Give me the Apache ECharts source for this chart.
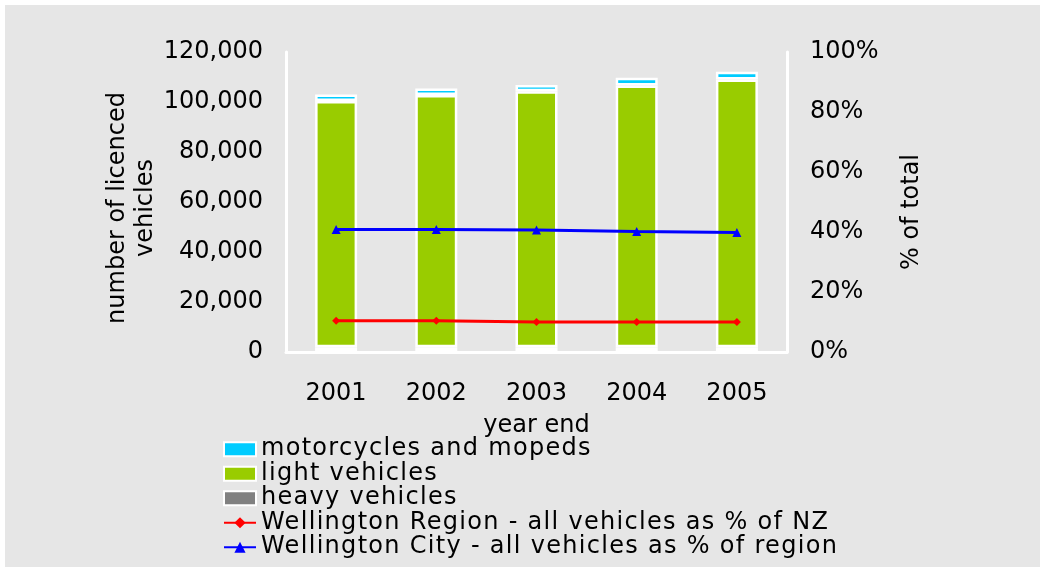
<!DOCTYPE html>
<html>
<head>
<meta charset="utf-8">
<script src="https://cdn.jsdelivr.net/npm/echarts@6/dist/echarts.min.js"></script>
<style>
    html, body {
        margin: 0;
        padding: 0;
        background: #fff;
    }

    #chart {
        position: absolute;
        left: 5px;
        top: 5px;
        width: 1035px;
        height: 562px;
    }
</style>
</head>
<body>
<div id="chart"></div>
<script>
    // data
    var years = ['2001', '2002', '2003', '2004', '2005'];
    var heavyVehicles = [1900, 1900, 1900, 1900, 1900];
    var lightVehicles = [98500, 100900, 102400, 104700, 107100];
    var motorcycles = [2600, 2600, 2500, 3100, 3100];
    var regionPctOfNZ = [10.4, 10.4, 10.0, 10.0, 10.0];
    var cityPctOfRegion = [40.8, 40.8, 40.7, 40.2, 39.8];

    var font = 'DejaVu Sans';
    // legend text in the original is spaced wider than the axis text
    var legendFont = 'Verdana, DejaVu Sans';

    var origFillText = CanvasRenderingContext2D.prototype.fillText;
    CanvasRenderingContext2D.prototype.fillText = function () {
        this.letterSpacing = this.font.indexOf('Verdana') >= 0 ? '1.3px' : '0px';
        return origFillText.apply(this, arguments);
    };

    var myChart = echarts.init(document.getElementById('chart'));

    myChart.setOption({
        backgroundColor: '#e6e6e6',
        animation: false,
        textStyle: {
            fontFamily: font,
            color: '#000'
        },
        grid: {
            left: 281,
            right: 253,
            top: 47,
            bottom: 215
        },
        legend: {
            orient: 'vertical',
            left: 218,
            top: 432,
            padding: 0,
            itemWidth: 32,
            itemHeight: 14,
            itemGap: 0,
            textStyle: {
                fontFamily: legendFont,
                fontSize: 24,
                lineHeight: 24.5,
                color: '#000'
            },
            data: [
                { name: 'motorcycles and mopeds', icon: 'rect' },
                { name: 'light vehicles', icon: 'rect' },
                { name: 'heavy vehicles', icon: 'rect' },
                'Wellington Region - all vehicles as % of NZ',
                'Wellington City - all vehicles as % of region'
            ]
        },
        xAxis: {
            type: 'category',
            data: years,
            name: 'year end',
            nameLocation: 'middle',
            nameGap: 62,
            nameTextStyle: {
                fontSize: 24,
                color: '#000'
            },
            axisLine: {
                lineStyle: { color: '#fff', width: 3 }
            },
            axisTick: { show: false },
            axisLabel: {
                fontSize: 24,
                color: '#000',
                margin: 30
            }
        },
        yAxis: [
            {
                type: 'value',
                min: 0,
                max: 120000,
                interval: 20000,
                name: 'number of licenced\nvehicles',
                nameLocation: 'middle',
                nameRotate: 90,
                nameGap: 123,
                nameTextStyle: {
                    fontSize: 24,
                    lineHeight: 28,
                    color: '#000',
                    padding: [0, 12, 0, 0]
                },
                axisLine: {
                    show: true,
                    lineStyle: { color: '#fff', width: 3 }
                },
                axisTick: { show: false },
                splitLine: { show: false },
                axisLabel: {
                    fontSize: 24,
                    color: '#000',
                    margin: 23,
                    padding: [10, 0, 0, 0],
                    formatter: function (v) {
                        return v.toString().replace(/\B(?=(\d{3})+(?!\d))/g, ',');
                    }
                }
            },
            {
                type: 'value',
                min: 0,
                max: 100,
                interval: 20,
                name: '% of total',
                nameLocation: 'middle',
                nameRotate: 90,
                nameGap: 113,
                nameTextStyle: {
                    fontSize: 24,
                    color: '#000',
                    padding: [0, 20, 0, 0]
                },
                axisLine: {
                    show: true,
                    lineStyle: { color: '#fff', width: 3 }
                },
                axisTick: { show: false },
                splitLine: { show: false },
                axisLabel: {
                    fontSize: 24,
                    color: '#000',
                    margin: 23,
                    padding: [10, 0, 0, 0],
                    formatter: '{value}%'
                }
            }
        ],
        series: [
            {
                name: 'heavy vehicles',
                type: 'bar',
                stack: 'veh',
                barWidth: 42,
                itemStyle: { color: '#808080', borderColor: '#fff', borderWidth: 2.5 },
                data: heavyVehicles
            },
            {
                name: 'light vehicles',
                type: 'bar',
                stack: 'veh',
                barWidth: 42,
                itemStyle: { color: '#99cc00', borderColor: '#fff', borderWidth: 2.5 },
                data: lightVehicles
            },
            {
                name: 'motorcycles and mopeds',
                type: 'bar',
                stack: 'veh',
                barWidth: 42,
                itemStyle: { color: '#00ccff', borderColor: '#fff', borderWidth: 2.5 },
                data: motorcycles
            },
            {
                name: 'Wellington Region - all vehicles as % of NZ',
                type: 'line',
                yAxisIndex: 1,
                symbol: 'diamond',
                symbolSize: 8,
                lineStyle: { color: '#ff0000', width: 3 },
                itemStyle: { color: '#ff0000' },
                z: 5,
                data: regionPctOfNZ
            },
            {
                name: 'Wellington City - all vehicles as % of region',
                type: 'line',
                yAxisIndex: 1,
                symbol: 'triangle',
                symbolSize: 9,
                lineStyle: { color: '#0000ff', width: 3 },
                itemStyle: { color: '#0000ff' },
                z: 5,
                data: cityPctOfRegion
            }
        ]
    });
</script>
</body>
</html>
